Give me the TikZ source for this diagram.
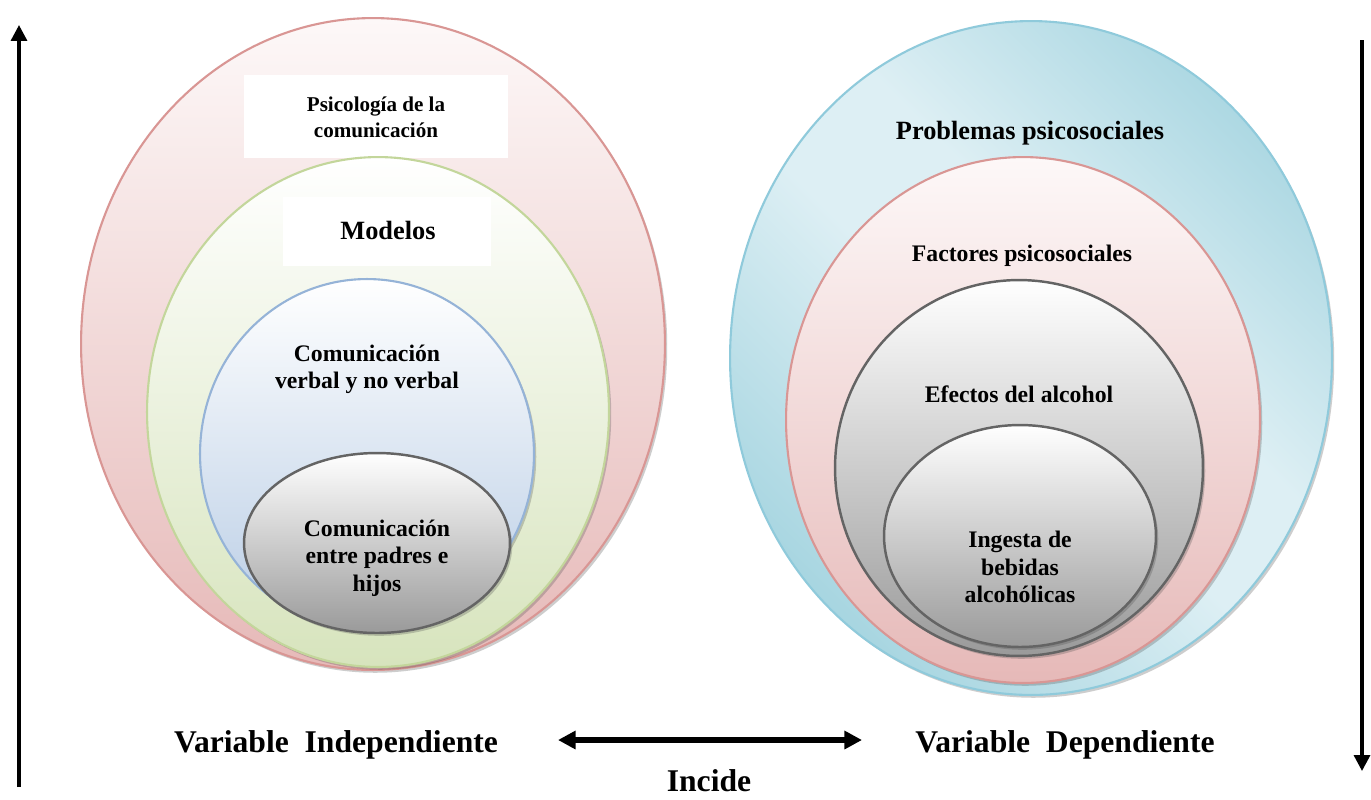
\documentclass[tikz,border=0pt]{standalone}
\usepackage{fontspec}
\setmainfont{Liberation Serif}
\usetikzlibrary{shapes.geometric,arrows.meta,shadows}
\definecolor{redB}{HTML}{D99694}
\definecolor{redF}{HTML}{E6B9B8}
\definecolor{redT}{HTML}{FDF8F8}
\definecolor{grnB}{HTML}{C3D69B}
\definecolor{grnF}{HTML}{D7E4BD}
\definecolor{bluB}{HTML}{95B3D7}
\definecolor{bluF}{HTML}{B9CDE5}
\definecolor{gryB}{HTML}{646464}
\definecolor{gryF}{HTML}{9A9A9A}
\definecolor{cyaB}{HTML}{8FCADB}
\definecolor{cyaD}{HTML}{A0D2DE}
\definecolor{cyaL}{HTML}{DDEFF4}
\pgfdeclarehorizontalshading{cyaband}{100bp}{color(0bp)=(cyaD); color(22bp)=(cyaD); color(47bp)=(cyaL); color(57bp)=(cyaL); color(80bp)=(cyaD); color(100bp)=(cyaD)}
\tikzset{
  oval/.style={ellipse, inner sep=0pt, line width=1.2pt,
    drop shadow={shadow xshift=1.3pt, shadow yshift=-1.6pt, opacity=0.28, fill=black!70}},
  redoval/.style={oval, draw=redB, top color=redT, bottom color=redF},
  grnoval/.style={oval, draw=grnB, top color=white, bottom color=grnF},
  bluoval/.style={oval, draw=bluB, top color=white, bottom color=bluF},
  gryoval/.style={oval, draw=gryB, line width=1.4pt, top color=white, bottom color=gryF},
  cyaoval/.style={oval, draw=cyaB, shading=cyaband, shading angle=45},
  whitebox/.style={fill=white, draw=none, inner sep=0pt},
  lbl/.style={font=\bfseries, align=center, inner sep=0pt},
  varrow/.style={line width=1.9pt, -{Triangle[length=9pt, width=9pt]}},
  harrow/.style={line width=3pt, {Triangle[length=10pt, width=10pt]}-{Triangle[length=10pt, width=10pt]}}
}
\begin{document}
\begin{tikzpicture}[x=0.02cm, y=-0.02cm]
\useasboundingbox[fill=white] (0,0) rectangle (1371,799);

% left group
\node[redoval, minimum width=11.68cm, minimum height=13.04cm] (lred) at (373,344) {};
\node[whitebox, minimum width=5.28cm, minimum height=1.66cm] (psicobox) at (376,116) {};
\node[lbl, font=\bfseries\fontsize{12}{14.7}\selectfont] (psico) at (376,117) {Psicología de la\\comunicación};
\node[grnoval, minimum width=9.24cm, minimum height=10.2cm] (lgrn) at (378,412) {};
\node[whitebox, minimum width=4.18cm, minimum height=1.38cm] (modbox) at (387,231) {};
\node[lbl, font=\bfseries\fontsize{15}{17}\selectfont] (modelos) at (388,230) {Modelos};
\node[bluoval, minimum width=6.68cm, minimum height=7.0cm] (lblu) at (367,454) {};
\node[lbl, font=\bfseries\fontsize{13.5}{15.4}\selectfont] (verbal) at (367,369) {Comunicación\\verbal y no verbal};
\node[gryoval, minimum width=5.32cm, minimum height=3.6cm] (lgry) at (377,543) {};
\node[lbl, font=\bfseries\fontsize{13.5}{15.6}\selectfont] (padres) at (377,558) {Comunicación\\entre padres e\\hijos};

% right group
\node[cyaoval, minimum width=12.04cm, minimum height=13.48cm] (rcya) at (1031,358) {};
\node[lbl, font=\bfseries\fontsize{15}{17}\selectfont] (problemas) at (1030,133) {Problemas psicosociales};
\node[redoval, minimum width=9.48cm, minimum height=10.52cm] (rred) at (1023,420) {};
\node[lbl, font=\bfseries\fontsize{13.5}{15.4}\selectfont] (factores) at (1022,256) {Factores psicosociales};
\node[gryoval, minimum width=7.36cm, minimum height=7.52cm] (rgry1) at (1019,468) {};
\node[lbl, font=\bfseries\fontsize{13.5}{15.4}\selectfont] (efectos) at (1019,394) {Efectos del alcohol};
\node[gryoval, minimum width=5.44cm, minimum height=4.44cm] (rgry2) at (1020,536) {};
\node[lbl, font=\bfseries\fontsize{13.5}{15.6}\selectfont] (ingesta) at (1020,567) {Ingesta de\\bebidas\\alcohólicas};

% bottom labels
\node[lbl, font=\bfseries\fontsize{18}{20}\selectfont] (varind) at (336,745) {Variable\ \ Independiente};
\node[lbl, font=\bfseries\fontsize{18}{20}\selectfont] (vardep) at (1065,745) {Variable\ \ Dependiente};
\node[lbl, font=\bfseries\fontsize{18}{20}\selectfont] (incide) at (709,781) {Incide};

% arrows
\coordinate (la1) at (19,787);
\coordinate (la2) at (19,25);
\coordinate (ra1) at (1362,40);
\coordinate (ra2) at (1362,771);
\coordinate (ha1) at (558,740);
\coordinate (ha2) at (862,740);
\draw[varrow] (la1) -- (la2);
\draw[varrow] (ra1) -- (ra2);
\draw[harrow] (ha1) -- (ha2);
\end{tikzpicture}
\end{document}
